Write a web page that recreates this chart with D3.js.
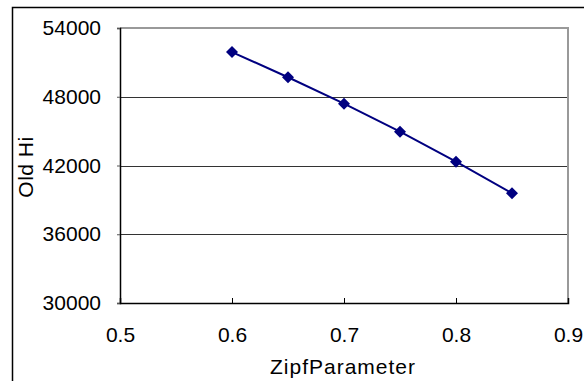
<!DOCTYPE html>
<meta charset="utf-8">
<style>
body { margin: 0; background: #fff; }
svg { display: block; }
text { font-family: "Liberation Sans", Arial, sans-serif; fill: #000; }
</style>
<body>
<script src="https://d3js.org/d3.v7.min.js"></script>
<script>
var zipf = [0.6, 0.65, 0.7, 0.75, 0.8, 0.85];
var oldHi = [51900, 49700, 47400, 44950, 42330, 39570];
var xTicks = [0.5, 0.6, 0.7, 0.8, 0.9];
var yTicks = [30000, 36000, 42000, 48000, 54000];

var width = 584, height = 381;
var margin = {top: 28, right: 16, bottom: 78, left: 120};
var w = width - margin.left - margin.right,
    h = height - margin.top - margin.bottom;

var svg = d3.select("body").append("svg")
    .attr("width", width)
    .attr("height", height);

// outer chart frame (cropped at right and bottom)
svg.append("rect")
    .attr("x", 12.5).attr("y", 7.5)
    .attr("width", 600).attr("height", 400)
    .attr("fill", "#fff")
    .attr("stroke", "#000")
    .attr("stroke-width", 1.5);

var x = d3.scaleLinear().domain([0.5, 0.9]).range([0, w]);
var y = d3.scaleLinear().domain([30000, 54000]).range([h, 0]);

var g = svg.append("g")
    .attr("transform", "translate(" + margin.left + "," + margin.top + ")");

// gridlines
g.selectAll(".grid")
  .data(yTicks.slice(1, -1))
  .enter().append("line")
    .attr("x1", 0).attr("x2", w)
    .attr("y1", function(d) { return Math.round(y(d)) + 0.5; })
    .attr("y2", function(d) { return Math.round(y(d)) + 0.5; })
    .attr("stroke", "#333")
    .attr("stroke-width", 1);

// plot frame top/right
g.append("path")
    .attr("d", "M0," + y(54000) + "H" + w + "V" + h)
    .attr("fill", "none")
    .attr("stroke", "#999")
    .attr("stroke-width", 2);

// y axis
var yAxis = g.append("g")
    .call(d3.axisLeft(y).tickValues(yTicks).tickSize(3).tickFormat(d3.format("d")));
yAxis.select(".domain").attr("stroke", "#000").attr("stroke-width", 1.5);
yAxis.selectAll(".tick line").attr("stroke", "#555");
yAxis.selectAll("text")
    .attr("x", -19)
    .style("font-size", "21px");

// x axis
var xAxis = g.append("g")
    .attr("transform", "translate(0," + h + ")")
    .call(d3.axisBottom(x).tickValues(xTicks).tickSize(-5).tickFormat(d3.format(".1f")));
xAxis.select(".domain").attr("stroke", "#000").attr("stroke-width", 1.5);
xAxis.selectAll(".tick line").attr("stroke", "#000");
xAxis.selectAll("text")
    .attr("y", 24)
    .style("font-size", "21px");

// axis titles
svg.append("text")
    .attr("x", 343).attr("y", 374)
    .attr("text-anchor", "middle")
    .style("font-size", "21px")
    .style("letter-spacing", "1px")
    .text("ZipfParameter");

svg.append("text")
    .attr("transform", "translate(33,167) rotate(-90)")
    .attr("text-anchor", "middle")
    .style("font-size", "21px")
    .style("letter-spacing", "0.5px")
    .text("Old Hi");

// series line
var pts = zipf.map(function(d, i) { return [d, oldHi[i]]; });
g.append("path")
    .datum(pts)
    .attr("fill", "none")
    .attr("stroke", "#000080")
    .attr("stroke-width", 2)
    .attr("d", d3.line()
      .x(function(d) { return x(d[0]); })
      .y(function(d) { return y(d[1]); }));

g.selectAll(".pt")
  .data(pts)
  .enter().append("path")
    .attr("transform", function(d) { return "translate(" + x(d[0]) + "," + y(d[1]) + ")"; })
    .attr("d", "M0,-6L6,0L0,6L-6,0Z")
    .attr("fill", "#000080");
</script>
</body>
